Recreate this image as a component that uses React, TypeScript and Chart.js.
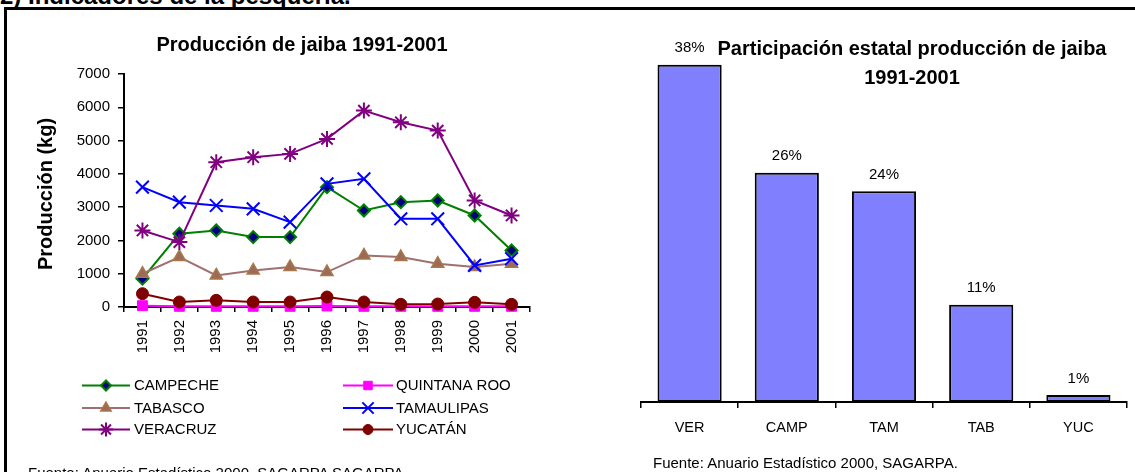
import React, { useEffect, useRef } from 'react';
import { Chart, registerables } from 'chart.js';
import { drawPoint } from 'chart.js/helpers';

Chart.register(...registerables);

const FONT = '"Liberation Sans", Arial, Helvetica, sans-serif';

// ---------- Data: Producción de jaiba 1991-2001 ----------
const years = ['1991', '1992', '1993', '1994', '1995', '1996', '1997', '1998', '1999', '2000', '2001'];
const campeche = [850, 2200, 2300, 2100, 2100, 3600, 2900, 3150, 3200, 2750, 1700];
const quintanaRoo = [40, 20, 20, 20, 20, 30, 20, 20, 20, 20, 20];
const tabasco = [1000, 1500, 950, 1100, 1200, 1050, 1550, 1500, 1300, 1200, 1300];
const tamaulipas = [3600, 3150, 3050, 2950, 2550, 3700, 3850, 2650, 2650, 1250, 1450];
const veracruz = [2300, 1950, 4350, 4500, 4600, 5050, 5900, 5550, 5300, 3200, 2750];
const yucatan = [400, 150, 200, 150, 150, 300, 150, 80, 90, 140, 80];
const yMin = 0;
const yMax = 7000;
const yStep = 1000;

// ---------- Data: Participación estatal ----------
const states = ['VER', 'CAMP', 'TAM', 'TAB', 'YUC'];
const shares = [38.1, 25.9, 23.8, 11.0, 0.8];

const seriesDefs = [
  { label: 'CAMPECHE', data: campeche, line: '#008000', style: 'rectRot', radius: 6, fill: '#000080', border: '#008000', bw: 2 },
  { label: 'QUINTANA ROO', data: quintanaRoo, line: '#FF00FF', style: 'rect', radius: 7, fill: '#FF00FF', border: '#FF00FF', bw: 1 },
  { label: 'TABASCO', data: tabasco, line: '#A07070', style: 'triangle', radius: 7, fill: '#9C6A58', border: '#A8784A', bw: 1.5 },
  { label: 'TAMAULIPAS', data: tamaulipas, line: '#0000FF', style: 'crossRot', radius: 9, fill: '#0000FF', border: '#0000FF', bw: 2 },
  { label: 'VERACRUZ', data: veracruz, line: '#800080', style: 'star', radius: 8, fill: '#800080', border: '#800080', bw: 2 },
  { label: 'YUCATÁN', data: yucatan, line: '#800000', style: 'circle', radius: 6, fill: '#800000', border: '#800000', bw: 1 },
];

const legendLayout = [
  { idx: 0, x0: 82, x1: 130, tx: 134, y: 385.5 },
  { idx: 1, x0: 343, x1: 393, tx: 396, y: 385.5 },
  { idx: 2, x0: 82, x1: 130, tx: 134, y: 408 },
  { idx: 3, x0: 343, x1: 393, tx: 396, y: 408 },
  { idx: 4, x0: 82, x1: 130, tx: 134, y: 429.5 },
  { idx: 5, x0: 343, x1: 393, tx: 396, y: 429.5 },
];

const legendPlugin = {
  id: 'customLegend',
  afterDraw(chart: any) {
    const ctx = chart.ctx;
    legendLayout.forEach((item) => {
      const ds: any = chart.data.datasets[item.idx];
      ctx.save();
      ctx.strokeStyle = ds.borderColor;
      ctx.lineWidth = 2;
      ctx.beginPath();
      ctx.moveTo(item.x0, item.y);
      ctx.lineTo(item.x1, item.y);
      ctx.stroke();
      ctx.fillStyle = ds.pointBackgroundColor;
      ctx.strokeStyle = ds.pointBorderColor;
      ctx.lineWidth = ds.pointBorderWidth;
      drawPoint(
        ctx,
        { pointStyle: ds.pointStyle, rotation: 0, radius: ds.pointRadius - 1, borderWidth: ds.pointBorderWidth } as any,
        (item.x0 + item.x1) / 2,
        item.y
      );
      ctx.fillStyle = '#000';
      ctx.font = `15px ${FONT}`;
      ctx.textAlign = 'left';
      ctx.textBaseline = 'middle';
      ctx.fillText(ds.label, item.tx, item.y + 0.5);
      ctx.restore();
    });
  },
};

const barLabelPlugin = {
  id: 'barLabels',
  afterDatasetsDraw(chart: any) {
    const ctx = chart.ctx;
    const meta = chart.getDatasetMeta(0);
    ctx.save();
    ctx.font = `15px ${FONT}`;
    ctx.fillStyle = '#000';
    ctx.textAlign = 'center';
    ctx.textBaseline = 'middle';
    meta.data.forEach((el: any, i: number) => {
      const v = chart.data.datasets[0].data[i] as number;
      ctx.fillText(Math.round(v) + '%', el.x, el.y - 16.5);
    });
    ctx.restore();
  },
};

function LineChart() {
  const ref = useRef<HTMLCanvasElement>(null);
  useEffect(() => {
    const chart = new Chart(ref.current as HTMLCanvasElement, {
      type: 'line',
      data: {
        labels: years,
        datasets: seriesDefs.map((s, i) => ({
          label: s.label,
          data: s.data,
          borderColor: s.line,
          borderWidth: 2,
          backgroundColor: s.fill,
          pointStyle: s.style as any,
          pointRadius: s.radius,
          pointBackgroundColor: s.fill,
          pointBorderColor: s.border,
          pointBorderWidth: s.bw,
          tension: 0,
          fill: false,
          clip: false,
          order: seriesDefs.length - i,
        })),
      },
      options: {
        responsive: false,
        animation: false,
        devicePixelRatio: 1,
        layout: { padding: { left: 0, top: 74, right: 50, bottom: 105 } },
        plugins: { legend: { display: false }, title: { display: false }, tooltip: { enabled: false } },
        scales: {
          x: {
            offset: true,
            grid: { display: true, offset: true, drawOnChartArea: false, drawTicks: true, tickLength: 5, color: '#000', lineWidth: 1.5 },
            border: { display: true, color: '#000', width: 2 },
            ticks: { minRotation: 90, maxRotation: 90, autoSkip: false, padding: 8, color: '#000', font: { family: FONT, size: 15 } },
            afterFit: (s: any) => { s.height = 60; },
          },
          y: {
            min: yMin,
            max: yMax,
            ticks: {
              stepSize: yStep, padding: 8, color: '#000', font: { family: FONT, size: 15 },
              callback: (v: any) => String(v),
            },
            grid: { display: true, drawOnChartArea: false, drawTicks: true, tickLength: 6, color: '#000', lineWidth: 1.5 },
            border: { display: true, color: '#000', width: 2 },
            afterFit: (s: any) => { s.width = 124; },
          },
        },
      },
      plugins: [legendPlugin],
    });
    return () => chart.destroy();
  }, []);
  return (
    <canvas ref={ref} width={580} height={472}
      style={{ position: 'absolute', left: 0, top: 0, width: 580, height: 472 }} />
  );
}

function BarChart() {
  const ref = useRef<HTMLCanvasElement>(null);
  useEffect(() => {
    const chart = new Chart(ref.current as HTMLCanvasElement, {
      type: 'bar',
      data: {
        labels: states,
        datasets: [{
          data: shares,
          backgroundColor: '#8080FF',
          borderColor: '#000',
          borderWidth: 2,
          borderSkipped: false,
          barPercentage: 0.66,
          categoryPercentage: 1,
        }],
      },
      options: {
        responsive: false,
        animation: false,
        devicePixelRatio: 1,
        layout: { padding: { left: 61, right: 8, top: 48, bottom: 30 } },
        plugins: { legend: { display: false }, title: { display: false }, tooltip: { enabled: false } },
        scales: {
          x: {
            grid: { display: true, offset: true, drawOnChartArea: false, drawTicks: true, tickLength: 6, color: '#000', lineWidth: 1.5 },
            border: { display: true, color: '#000', width: 2 },
            ticks: { padding: 11, color: '#000', font: { family: FONT, size: 14.5 } },
            afterFit: (s: any) => { s.height = 40; },
          },
          y: { display: false, min: 0, max: 40 },
        },
      },
      plugins: [barLabelPlugin],
    });
    return () => chart.destroy();
  }, []);
  return (
    <canvas ref={ref} width={555} height={472}
      style={{ position: 'absolute', left: 580, top: 0, width: 555, height: 472 }} />
  );
}

function CenterText(props: { cx: number; top: number; size: number; bold?: boolean; children: React.ReactNode }) {
  return (
    <div style={{
      position: 'absolute', left: props.cx - 300, width: 600, top: props.top, textAlign: 'center',
      fontSize: props.size, lineHeight: `${props.size * 1.2}px`, fontWeight: props.bold ? 'bold' : 'normal',
      color: '#000', whiteSpace: 'nowrap',
    }}>{props.children}</div>
  );
}

export default function App() {
  return (
    <div style={{
      position: 'fixed', left: 0, top: 0, width: 1135, height: 472, overflow: 'hidden',
      background: '#fff', fontFamily: FONT,
    }}>
      <div style={{
        position: 'absolute', left: 0, top: -18, fontSize: 24, lineHeight: '28px', fontWeight: 'bold',
        color: '#000', whiteSpace: 'nowrap',
      }}>2) Indicadores de la pesquería.</div>
      <div style={{
        position: 'absolute', left: 4, top: 7, width: 1300, height: 600,
        borderTop: '3px solid #000', borderLeft: '3px solid #000',
      }} />
      <LineChart />
      <BarChart />
      <CenterText cx={302} top={32} size={20} bold>Producción de jaiba 1991-2001</CenterText>
      <div style={{
        position: 'absolute', left: 45 - 150, top: 194 - 12, width: 300, height: 24, textAlign: 'center',
        fontSize: 20, lineHeight: '24px', fontWeight: 'bold', color: '#000', transform: 'rotate(-90deg)',
        transformOrigin: '50% 50%', whiteSpace: 'nowrap',
      }}>Producción (kg)</div>
      <CenterText cx={912} top={35.5} size={20} bold>Participación estatal producción de jaiba</CenterText>
      <CenterText cx={912} top={65} size={20} bold>1991-2001</CenterText>
      <div style={{
        position: 'absolute', left: 28, top: 463.5, fontSize: 15, lineHeight: '18px', color: '#000', whiteSpace: 'nowrap',
      }}>Fuente: Anuario Estadístico 2000, SAGARPA SAGARPA</div>
      <div style={{
        position: 'absolute', left: 653, top: 454, fontSize: 15, lineHeight: '18px', color: '#000', whiteSpace: 'nowrap',
      }}>Fuente: Anuario Estadístico 2000, SAGARPA.</div>
    </div>
  );
}
